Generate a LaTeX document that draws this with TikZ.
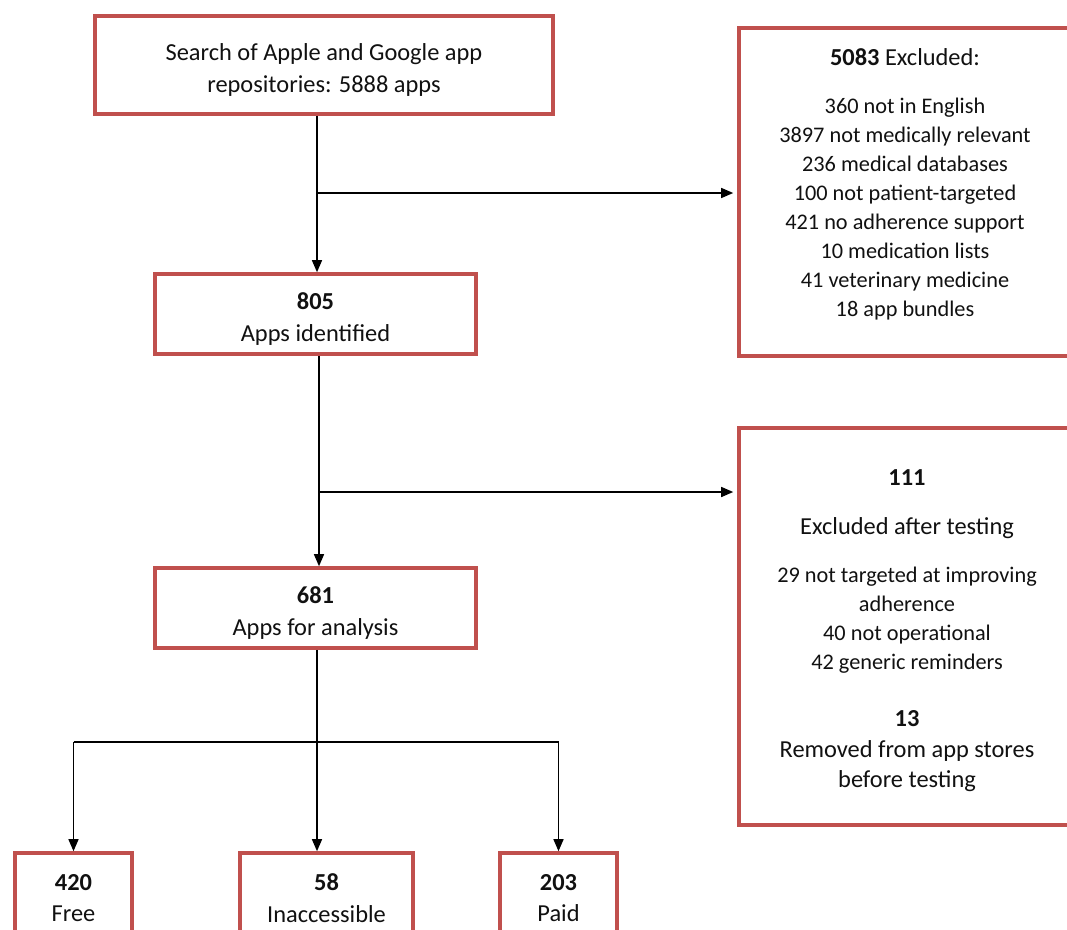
\documentclass[tikz,border=0pt]{standalone}
\usepackage{fontspec}
\setmainfont{Carlito}
\usepackage{xcolor}
\usepackage{tikz}
\usetikzlibrary{arrows.meta,positioning}
\definecolor{fcRed}{HTML}{C0504D}
\definecolor{fcInk}{HTML}{111111}
\newcommand{\fcmain}{\fontsize{24.4}{31.5}\selectfont}
\newcommand{\fclist}{\fontsize{22.3}{29}\selectfont}
\tikzset{
  fc diagram/.style={x=1pt, y=-1pt, text=fcInk, line join=miter},
  fc box/.style={draw=fcRed, line width=3.6pt, fill=white, inner sep=0pt},
  fc label/.style={align=center, inner sep=0pt, font=\fcmain},
  fc text/.style={align=center, inner sep=0pt, font=\fclist},
  fc line/.style={draw=black, line width=1.4pt},
  fc arrow/.style={fc line, -{Triangle[length=12pt,width=10pt]}}
}

\begin{document}
\begin{tikzpicture}[fc diagram]
\useasboundingbox (0,0) rectangle (1067,929);
\clip (0,0) rectangle (1067,929);
% main column
\node[fc box, minimum width=458pt, minimum height=98pt] (search) at (324,65) {};
\node[fc label] (search txt) at ([yshift=-5pt]search.center)
  {Search of Apple and Google app\\repositories: 5888 apps};
\node[fc box, minimum width=321pt, minimum height=80pt] (identified) at (315.5,314) {};
\node[fc label] (identified txt) at ([yshift=-5pt]identified.center)
  {\textbf{805}\\Apps identified};
\node[fc box, minimum width=321pt, minimum height=80pt] (analysis) at (315.5,608) {};
\node[fc label] (analysis txt) at ([yshift=-5pt]analysis.center)
  {\textbf{681}\\Apps for analysis};
% exclusion boxes
\node[fc box, minimum width=334pt, minimum height=328pt] (excl1) at (906,192) {};
\node[fc text] (excl1 list) at (905,184.5)
  {{\fcmain\textbf{5083} Excluded:}\\[19pt]
   360 not in English\\3897 not medically relevant\\236 medical databases\\
   100 not patient-targeted\\421 no adherence support\\10 medication lists\\
   41 veterinary medicine\\18 app bundles};
\node[fc box, minimum width=334pt, minimum height=397pt] (excl2) at (906,626.5) {};
\node[fc text] (excl2 list) at (907,630.5)
  {{\fcmain\textbf{111}}\\[20pt]
   {\fcmain Excluded after testing}\\[19pt]
   29 not targeted at improving\\adherence\\40 not operational\\42 generic reminders\\[28pt]
   {\fcmain\textbf{13}}\\[2pt]
   {\fcmain Removed from app stores}\\[1pt]
   {\fcmain before testing}};
% bottom row
\foreach \name/\x/\w/\num/\lbl in {free/73.5/117/420/Free,inacc/326.5/173/58/Inaccessible,paid/558.5/117/203/Paid}{
  \node[fc box, minimum width=\w pt, minimum height=90pt] (\name) at (\x,898) {};
  \node[fc label] (\name txt) at (\name.center) {\textbf{\num}\\\lbl};
}
% connectors
\coordinate (split1) at (317,193);
\coordinate (split2) at (319,492);
\coordinate (fork) at (317,742);
\draw[fc arrow] (search.south -| split1) -- (identified.north -| split1);
\draw[fc arrow, shorten >=4pt] (split1) -- (split1 -| excl1.west);
\draw[fc arrow] (identified.south -| split2) -- (analysis.north -| split2);
\draw[fc arrow, shorten >=4pt] (split2) -- (split2 -| excl2.west);
\draw[fc arrow] (analysis.south -| fork) -- (inacc.north -| fork);
\draw[fc line] (free.north |- fork) -- (paid.north |- fork);
\draw[fc arrow] (free.north |- fork) -- (free.north);
\draw[fc arrow] (paid.north |- fork) -- (paid.north);
\end{tikzpicture}
\end{document}
